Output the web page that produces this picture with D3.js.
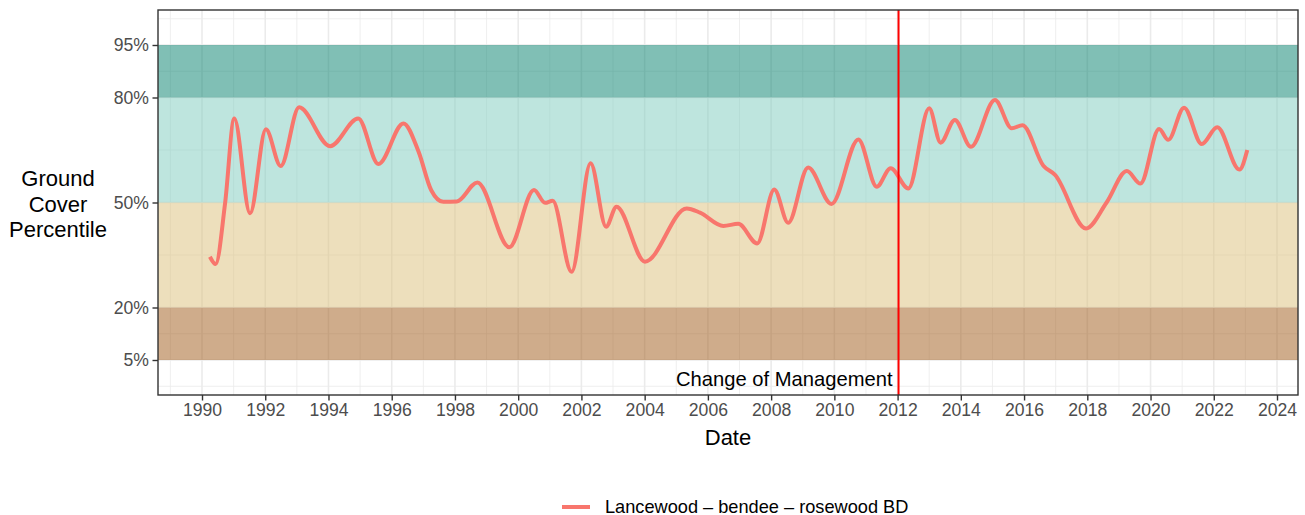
<!DOCTYPE html>
<html><head><meta charset="utf-8">
<script src="https://cdn.jsdelivr.net/npm/d3@7"></script>
<style>body{margin:0;background:#fff;font-family:"Liberation Sans",Arial,sans-serif;}</style>
</head><body><svg id="c" width="1305" height="515"></svg>
<script>
const years = [1990.25,1990.43,1990.73,1991.02,1991.52,1992.02,1992.49,1993.07,1994.05,1994.94,1995.58,1996.37,1996.85,1997.25,1997.63,1998.06,1998.71,1999.72,2000.5,2000.85,2001.09,2001.69,2002.29,2002.78,2003.11,2004.01,2005.33,2005.75,2006.49,2006.96,2007.56,2008.1,2008.54,2009.17,2009.91,2010.76,2011.34,2011.78,2012.34,2013.0,2013.36,2013.81,2014.32,2015.08,2015.61,2015.95,2016.61,2016.98,2017.96,2018.61,2019.25,2019.68,2020.27,2020.56,2021.06,2021.62,2022.11,2022.81,2023.06];
const values = [34.5,32.4,49.8,74.0,46.9,70.9,60.4,77.2,66.1,74.0,61.0,72.6,64.5,53.5,50.2,50.3,55.7,37.2,53.6,49.9,50.5,30.2,61.2,43.1,48.8,33.1,48.3,47.1,43.3,43.9,38.3,53.7,44.2,60.0,49.6,68.0,54.5,59.8,54.0,76.9,67.1,73.6,65.9,79.3,71.2,72.1,60.5,57.9,42.6,50.0,59.0,55.4,71.0,67.9,77.1,66.7,71.5,59.4,65.0];
const seriesName = "Lancewood – bendee – rosewood BD";
const changeYear = 2012.03;
const changeLabel = "Change of Management";
const yBreaks = [5,20,50,80,95];
const yMinor = [-2.5,12.5,35,65,87.5,102.5];
const xBreaks = d3.range(1990, 2025, 2);
const xMinor = d3.range(1989, 2026, 2);
const bands = [
  {lo:5, hi:20, color:"rgb(159,89,23)"},
  {lo:20, hi:50, color:"rgb(219,191,121)"},
  {lo:50, hi:80, color:"rgb(125,203,189)"},
  {lo:80, hi:95, color:"rgb(1,127,107)"}
];

const L=158, R=1298, T=10, B=395;
const svg = d3.select("#c");
const x = d3.scaleLinear().domain([1988.608, 2024.664]).range([L, R]);
const y = d3.scaleLinear().domain([-5, 105]).range([B, T]);

const g = svg.append("g");
svg.append("clipPath").attr("id","pc").append("rect").attr("x",L).attr("y",T).attr("width",R-L).attr("height",B-T);

// grid
const grid = g.append("g").attr("clip-path","url(#pc)");
grid.selectAll(".ymin").data(yMinor).join("line").attr("x1",L).attr("x2",R).attr("y1",d=>y(d)).attr("y2",d=>y(d)).attr("stroke","#EBEBEB").attr("stroke-width",0.8);
grid.selectAll(".xmin").data(xMinor).join("line").attr("y1",T).attr("y2",B).attr("x1",d=>x(d)).attr("x2",d=>x(d)).attr("stroke","#EBEBEB").attr("stroke-width",0.8);
grid.selectAll(".ymaj").data(yBreaks).join("line").attr("x1",L).attr("x2",R).attr("y1",d=>y(d)).attr("y2",d=>y(d)).attr("stroke","#EBEBEB").attr("stroke-width",1.6);
grid.selectAll(".xmaj").data(xBreaks).join("line").attr("y1",T).attr("y2",B).attr("x1",d=>x(d)).attr("x2",d=>x(d)).attr("stroke","#EBEBEB").attr("stroke-width",1.6);

// bands
g.append("g").selectAll("rect").data(bands).join("rect")
  .attr("x",L).attr("width",R-L).attr("y",d=>y(d.hi)).attr("height",d=>y(d.lo)-y(d.hi))
  .attr("fill",d=>d.color).attr("fill-opacity",0.5);

// line
const data = years.map((yr,i)=>({x:yr, v:values[i]}));
g.append("path").datum(data).attr("clip-path","url(#pc)")
  .attr("d", d3.line().x(d=>x(d.x)).y(d=>y(d.v)).curve(d3.curveMonotoneX))
  .attr("fill","none").attr("stroke","#F8766D").attr("stroke-width",4).attr("stroke-linejoin","round").attr("stroke-linecap","butt");

// vline
g.append("line").attr("x1",x(changeYear)).attr("x2",x(changeYear)).attr("y1",T).attr("y2",B).attr("stroke","#FF0000").attr("stroke-width",2);
g.append("text").attr("x",x(changeYear)-6).attr("y",386).attr("text-anchor","end").attr("font-size",20.2).attr("fill","#000").text(changeLabel);

// border
g.append("rect").attr("x",L).attr("y",T).attr("width",R-L).attr("height",B-T).attr("fill","none").attr("stroke","#333").attr("stroke-width",1.4);

// axes
const ya = g.append("g").attr("transform",`translate(${L},0)`)
  .call(d3.axisLeft(y).tickValues(yBreaks).tickFormat(d=>d+"%").tickSize(5.5).tickPadding(3.5));
const xa = g.append("g").attr("transform",`translate(0,${B})`)
  .call(d3.axisBottom(x).tickValues(xBreaks).tickFormat(d3.format("d")).tickSize(5.5).tickPadding(3));
[ya,xa].forEach(a=>{
  a.select(".domain").remove();
  a.selectAll(".tick line").attr("stroke","#333").attr("stroke-width",1.4);
  a.selectAll(".tick text").attr("fill","#4D4D4D").attr("font-size",17.6).attr("font-family","Liberation Sans, Arial, sans-serif");
});

// titles
const yt = g.append("text").attr("text-anchor","middle").attr("font-size",22).attr("fill","#000");
["Ground","Cover","Percentile"].forEach((s,i)=>yt.append("tspan").attr("x",58).attr("y",186+i*25.5).text(s));
g.append("text").attr("x",(L+R)/2).attr("y",445).attr("text-anchor","middle").attr("font-size",22).attr("fill","#000").text("Date");

// legend
g.append("line").attr("x1",562).attr("x2",590).attr("y1",507).attr("y2",507).attr("stroke","#F8766D").attr("stroke-width",4);
g.append("text").attr("x",605).attr("y",512.5).attr("font-size",18.2).attr("fill","#000").text(seriesName);
</script></body></html>
